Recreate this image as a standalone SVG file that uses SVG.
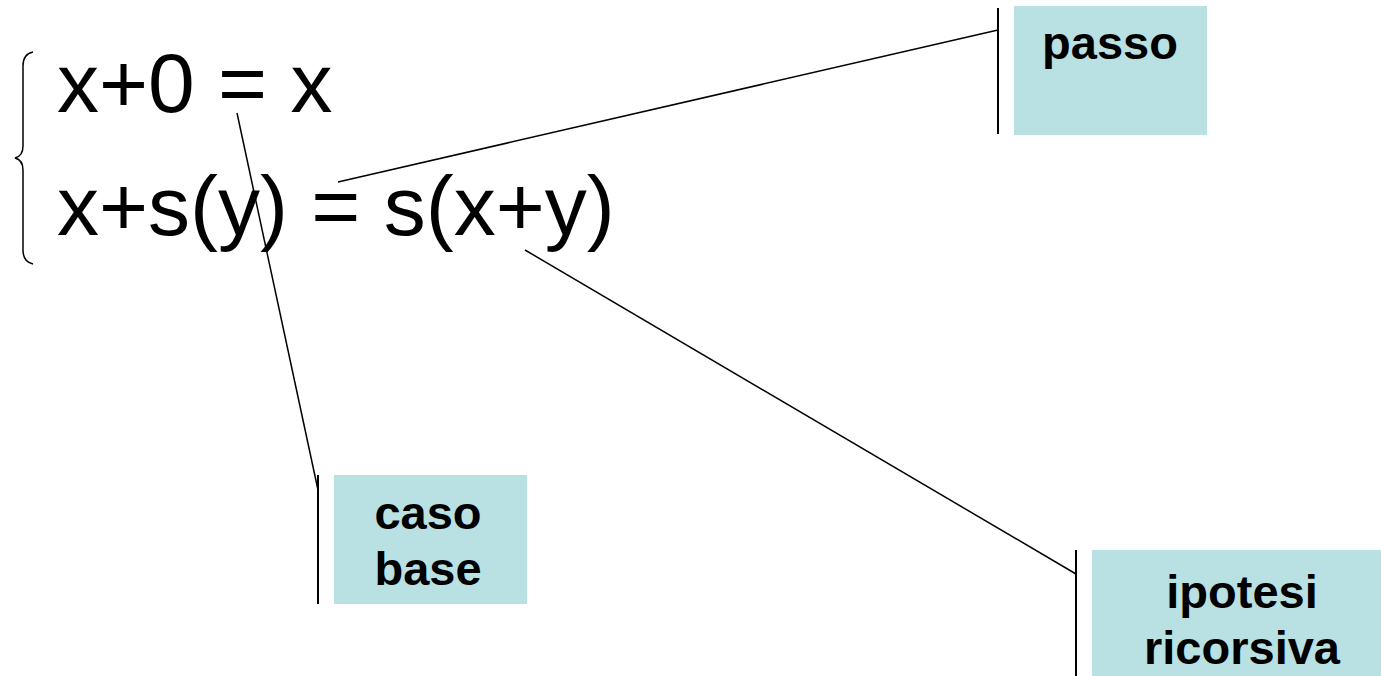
<svg xmlns="http://www.w3.org/2000/svg" width="1381" height="676" viewBox="0 0 1381 676">
  <style>
    .eq { font-family: "Liberation Sans", Arial, sans-serif; font-size: 84px; fill: #000; }
    .lbl { font-family: "Liberation Sans", Arial, sans-serif; font-size: 47px; font-weight: bold; fill: #000; text-anchor: middle; }
    .box { fill: #B9E0E3; stroke: none; }
    .bar { stroke: #000; stroke-width: 2; fill: none; }
    .conn { stroke: #000; stroke-width: 1.5; fill: none; }
  </style>

  <!-- equations with brace -->
  <g id="equations">
    <path d="M33,52 Q23,54 23,66 L23,146 Q23,156 15,158 Q23,160 23,170 L23,250 Q23,262 33,264" fill="none" stroke="#000" stroke-width="1.5"/>
    <text class="eq" x="57" y="112">x+0 = x</text>
    <text class="eq" x="57" y="235">x+s(y) = s(x+y)</text>
  </g>

  <!-- callout leader lines -->
  <g id="connectors">
    <line class="conn" x1="338" y1="182" x2="998" y2="30"/>
    <line class="conn" x1="237" y1="113" x2="318" y2="490"/>
    <line class="conn" x1="525" y1="250" x2="1076" y2="574"/>
  </g>

  <g id="passo">
    <line class="bar" x1="998" y1="8" x2="998" y2="134"/>
    <rect class="box" x="1014" y="6" width="193" height="129"/>
    <text class="lbl" x="1110" y="59">passo</text>
  </g>

  <g id="caso-base">
    <line class="bar" x1="318" y1="475" x2="318" y2="604"/>
    <rect class="box" x="334" y="475" width="193" height="129"/>
    <text class="lbl" x="428" y="529">caso</text>
    <text class="lbl" x="428" y="585">base</text>
  </g>

  <g id="ipotesi-ricorsiva">
    <line class="bar" x1="1076" y1="550" x2="1076" y2="676"/>
    <rect class="box" x="1092" y="550" width="289" height="126"/>
    <text class="lbl" x="1242" y="608">ipotesi</text>
    <text class="lbl" x="1242" y="664">ricorsiva</text>
  </g>
</svg>
